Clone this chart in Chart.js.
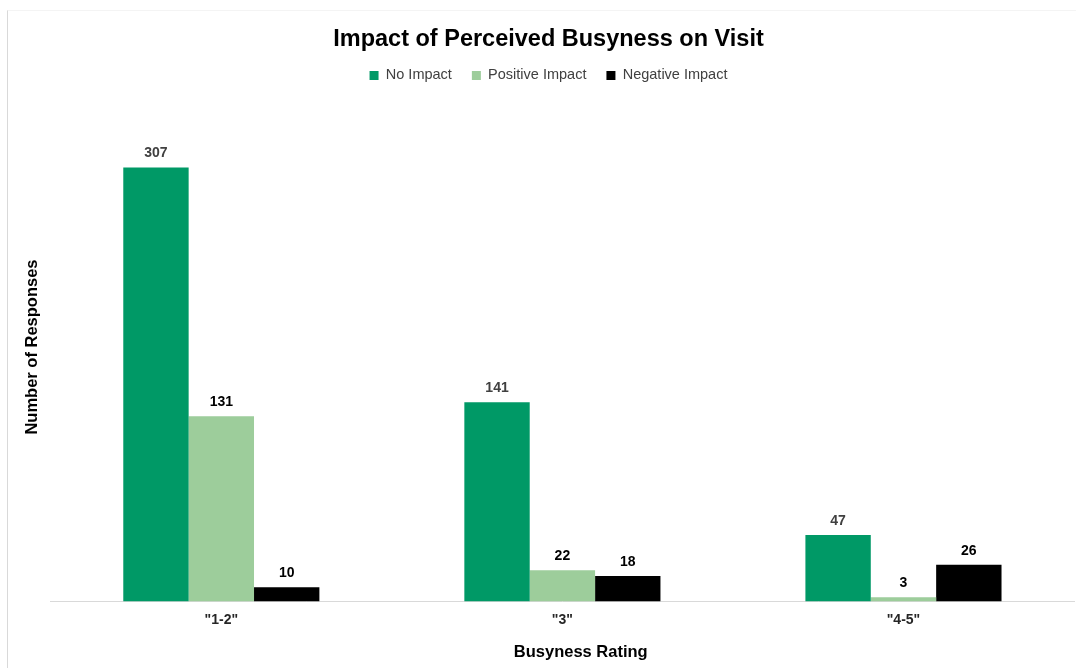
<!DOCTYPE html>
<html>
<head>
<meta charset="utf-8">
<script src="https://cdn.jsdelivr.net/npm/chart.js@4"></script>
<style>
  html, body { margin: 0; padding: 0; background: #fff; overflow: hidden; }
  .frame {
    position: absolute;
    left: 7px;
    top: 10px;
    width: 1082px;
    height: 657px;
    border-left: 1px solid #d9d9d9;
    border-top: 1px solid #f4f4f4;
  }
  canvas { display: block; }
</style>
</head>
<body>
<div class="frame">
  <canvas id="chart-busyness"></canvas>
</div>
<script>
// Busyness rating groups and response counts
const ratings = ['"1-2"', '"3"', '"4-5"'];
const noImpact = [307, 141, 47];
const positiveImpact = [131, 22, 3];
const negativeImpact = [10, 18, 26];

const colors = {
  noImpact: '#009966',
  positive: '#9dcd9b',
  negative: '#000000',
  axis: '#d9d9d9',
  text: '#262626'
};

const fontFamily = '"Liberation Sans", Arial, sans-serif';

// Draws the count above each bar
const barValueLabels = {
  id: 'barValueLabels',
  afterDatasetsDraw(chart) {
    const ctx = chart.ctx;
    ctx.save();
    ctx.font = 'bold 14px ' + fontFamily;
    ctx.textAlign = 'center';
    ctx.textBaseline = 'bottom';
    chart.data.datasets.forEach(function(ds, i) {
      const meta = chart.getDatasetMeta(i);
      ctx.fillStyle = i === 0 ? '#404040' : '#000000';
      meta.data.forEach(function(bar, j) {
        ctx.fillText(ds.data[j], bar.x, bar.y - 7);
      });
    });
    ctx.restore();
  }
};

new Chart(document.getElementById('chart-busyness'), {
  type: 'bar',
  data: {
    labels: ratings,
    datasets: [
      { label: 'No Impact', data: noImpact, backgroundColor: colors.noImpact },
      { label: 'Positive Impact', data: positiveImpact, backgroundColor: colors.positive },
      { label: 'Negative Impact', data: negativeImpact, backgroundColor: colors.negative }
    ]
  },
  options: {
    responsive: true,
    maintainAspectRatio: false,
    animation: false,
    categoryPercentage: 0.575,
    barPercentage: 1.0,
    layout: {
      padding: { left: 15, right: 16, top: 0, bottom: 6 }
    },
    plugins: {
      title: {
        display: true,
        text: 'Impact of Perceived Busyness on Visit',
        color: '#000',
        font: { family: fontFamily, size: 23.5, weight: 'bold' },
        padding: { top: 14, bottom: -5 }
      },
      legend: {
        position: 'top',
        labels: {
          boxWidth: 9,
          boxHeight: 9,
          color: '#404040',
          padding: 20,
          font: { family: fontFamily, size: 14.5 }
        }
      },
      tooltip: { enabled: false }
    },
    scales: {
      x: {
        grid: { display: false },
        border: { display: true, color: colors.axis, width: 1 },
        ticks: {
          color: colors.text,
          padding: 2,
          font: { family: fontFamily, size: 14, weight: 'bold' }
        },
        title: {
          display: true,
          // leading spaces nudge the centred title a little to the right
          text: '        Busyness Rating',
          color: '#000',
          padding: { top: 12, bottom: 0 },
          font: { family: fontFamily, size: 16.5, weight: 'bold' }
        }
      },
      y: {
        min: 0,
        max: 360,
        grid: { display: false },
        border: { display: false },
        ticks: { display: false },
        title: {
          display: true,
          text: 'Number of Responses',
          color: '#000',
          padding: { top: 0, bottom: 0 },
          font: { family: fontFamily, size: 16.5, weight: 'bold' }
        }
      }
    }
  },
  plugins: [barValueLabels]
});
</script>
</body>
</html>
